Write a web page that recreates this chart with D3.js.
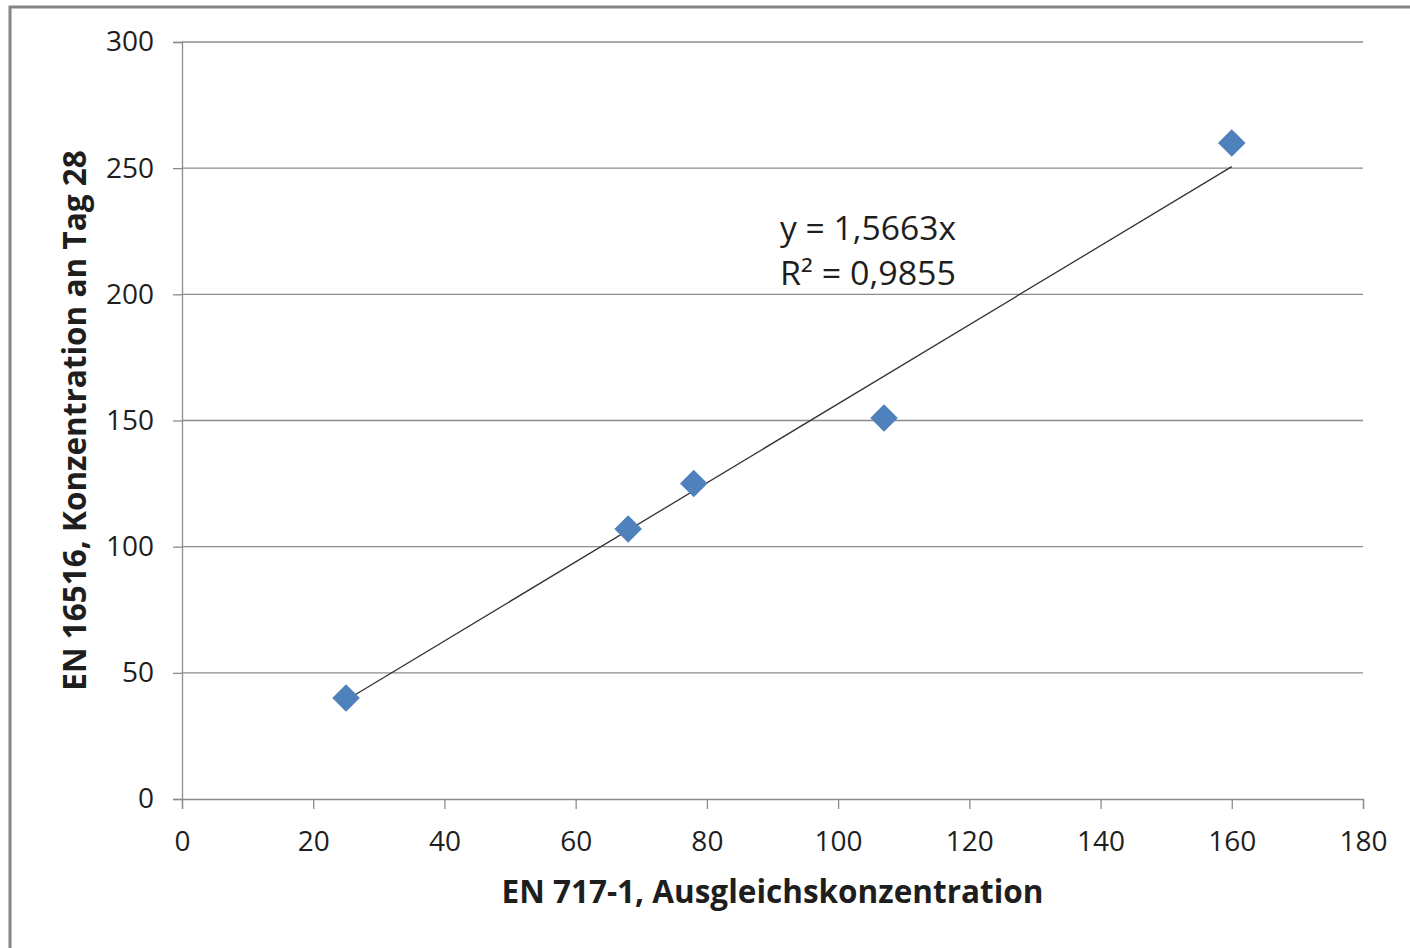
<!DOCTYPE html>
<html>
<head>
<meta charset="utf-8">
<script src="https://cdn.jsdelivr.net/npm/d3@7"></script>
<style>
  body { margin: 0; background: #fff; }
  text { font-family: "Open Sans", sans-serif; fill: #1e1e1e; }
</style>
</head>
<body>
<div id="chart"></div>
<script>
// data
const xValues = [25, 68, 78, 107, 160];
const yValues = [40, 107, 125, 151, 260];
const slope = 1.5663;
const equationLines = ["y = 1,5663x", "R² = 0,9855"];
const xTicks = [0, 20, 40, 60, 80, 100, 120, 140, 160, 180];
const yTicks = [0, 50, 100, 150, 200, 250, 300];
const xTitle = "EN 717-1, Ausgleichskonzentration";
const yTitle = "EN 16516, Konzentration an Tag 28";

const width = 1410;
const height = 948;
const margin = { top: 42, right: 47, bottom: 149, left: 182 };

const svg = d3.select("#chart").append("svg")
    .attr("width", width).attr("height", height);

// outer chart border
svg.append("rect")
    .attr("x", 10).attr("y", 7)
    .attr("width", width).attr("height", height)
    .attr("fill", "none").attr("stroke", "#868686").attr("stroke-width", 3);

const x = d3.scaleLinear().domain([0, 180]).range([margin.left, width - margin.right]);
const y = d3.scaleLinear().domain([0, 300]).range([height - margin.bottom, margin.top]);

// horizontal gridlines
svg.append("g")
    .selectAll("line")
    .data(yTicks.filter(d => d > 0))
    .join("line")
    .attr("x1", x(0)).attr("x2", x(180))
    .attr("y1", d => y(d)).attr("y2", d => y(d))
    .attr("stroke", "#8c8c8c").attr("stroke-width", 1.3);

// y axis
const yAxis = svg.append("g")
    .attr("transform", `translate(${x(0)},0)`)
    .call(d3.axisLeft(y).tickValues(yTicks).tickSize(9).tickPadding(19));
// x axis
const xAxis = svg.append("g")
    .attr("transform", `translate(0,${y(0)})`)
    .call(d3.axisBottom(x).tickValues(xTicks).tickSize(10).tickPadding(22));

[yAxis, xAxis].forEach(a => {
    a.select(".domain").attr("stroke", "#8c8c8c").attr("stroke-width", 1.3);
    a.selectAll(".tick line").attr("stroke", "#8c8c8c").attr("stroke-width", 1.3);
    a.selectAll(".tick text")
        .attr("font-size", "28px")
        .attr("font-family", "Open Sans, sans-serif")
        .attr("fill", "#1e1e1e");
});

// trendline through origin
const lineData = [d3.min(xValues), d3.max(xValues)].map(v => [v, slope * v]);
svg.append("path")
    .datum(lineData)
    .attr("fill", "none")
    .attr("stroke", "#333")
    .attr("stroke-width", 1.3)
    .attr("d", d3.line().x(d => x(d[0])).y(d => y(d[1])));

// diamond markers
const diamond = d3.symbol().type(d3.symbolSquare).size(380);
svg.append("g")
    .selectAll("path")
    .data(xValues.map((v, i) => [v, yValues[i]]))
    .join("path")
    .attr("d", diamond)
    .attr("transform", d => `translate(${x(d[0])},${y(d[1])}) rotate(45)`)
    .attr("fill", "#4f81bd");

// equation label
svg.append("g")
    .selectAll("text")
    .data(equationLines)
    .join("text")
    .attr("x", 780)
    .attr("y", (d, i) => 240 + i * 45)
    .attr("font-size", "32px")
    .attr("textLength", 176)
    .attr("lengthAdjust", "spacingAndGlyphs")
    .text(d => d);

// axis titles
svg.append("text")
    .attr("x", (x(0) + x(180)) / 2)
    .attr("y", 903)
    .attr("text-anchor", "middle")
    .attr("font-size", "31.5px")
    .attr("font-weight", "bold")
    .text(xTitle);

svg.append("text")
    .attr("transform", `translate(86,${(y(0) + y(300)) / 2}) rotate(-90)`)
    .attr("text-anchor", "middle")
    .attr("font-size", "31.5px")
    .attr("font-weight", "bold")
    .text(yTitle);
</script>
</body>
</html>
